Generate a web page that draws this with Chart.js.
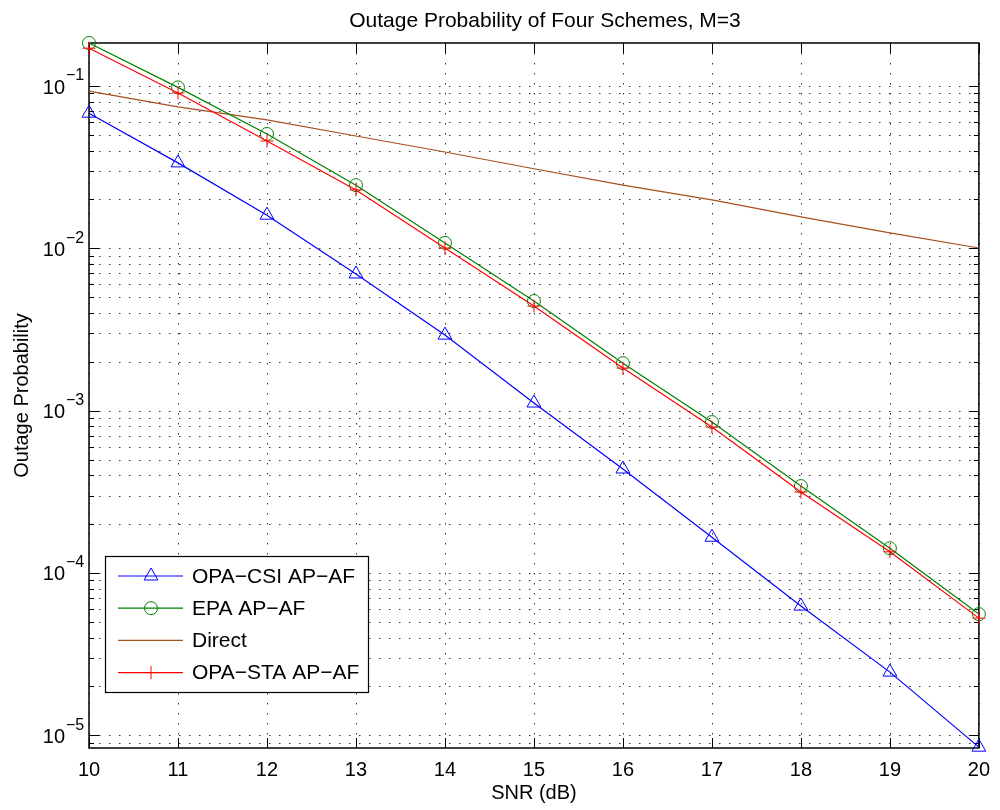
<!DOCTYPE html>
<html>
<head>
<meta charset="utf-8">
<title>Outage Probability of Four Schemes</title>
<script src="https://cdn.jsdelivr.net/npm/chart.js@4.4.0/dist/chart.umd.min.js"></script>
<style>
  html, body { margin: 0; padding: 0; background: #fff; }
  #wrap { width: 1000px; height: 810px; }
</style>
</head>
<body>
<div id="wrap"><canvas id="outageChart" width="1000" height="810"></canvas></div>
<script>
// Data
const snr = [10, 11, 12, 13, 14, 15, 16, 17, 18, 19, 20];
const opaCsi = [0.068, 0.0336, 0.0160, 0.00695, 0.00292, 0.001114, 4.37e-4, 1.66e-4, 6.25e-5, 2.45e-5, 8.45e-6];
const epa = [0.184, 0.098, 0.0506, 0.0245, 0.0108, 0.00473, 0.00196, 8.5e-4, 3.43e-4, 1.42e-4, 5.58e-5];
const direct = [0.093, 0.0743, 0.0618, 0.0492, 0.0392, 0.0309, 0.0245, 0.0199, 0.0156, 0.01245, 0.01004];
const opaSta = [0.171, 0.0905, 0.0458, 0.0229, 0.01005, 0.00441, 0.00183, 7.93e-4, 3.15e-4, 1.35e-4, 5.27e-5];

// Axis ticks
const xTicks = [10, 11, 12, 13, 14, 15, 16, 17, 18, 19, 20];
const yDecades = [1e-6, 1e-5, 1e-4, 1e-3, 1e-2, 1e-1];
const yLabelDecades = [1e-5, 1e-4, 1e-3, 1e-2, 1e-1];
const yLabelExponents = ['\u22125', '\u22124', '\u22123', '\u22122', '\u22121'];
const yMin = 8.35e-6;
const yMax = 0.184;

const fontFamily = '"Liberation Sans", Arial, Helvetica, sans-serif';

function toPoints(values) {
    return snr.map((x, i) => ({ x: x, y: values[i] }));
}

// every y tick (major + minor) inside the axis range
function yTickValues() {
    const out = [];
    yDecades.forEach(d => {
        for (let m = 1; m <= 9; m++) {
            const v = m * d;
            if (v >= yMin && v <= yMax) out.push({ value: v, major: m === 1 });
        }
    });
    return out;
}

function drawMarker(ctx, style, cx, cy, r) {
    ctx.beginPath();
    if (style === 'triangle') {
        ctx.moveTo(cx, cy - r);
        ctx.lineTo(cx + 0.866 * r, cy + 0.5 * r);
        ctx.lineTo(cx - 0.866 * r, cy + 0.5 * r);
        ctx.closePath();
    } else if (style === 'circle') {
        ctx.arc(cx, cy, r, 0, Math.PI * 2);
    } else if (style === 'cross') {
        ctx.moveTo(cx, cy - r); ctx.lineTo(cx, cy + r);
        ctx.moveTo(cx - r, cy); ctx.lineTo(cx + r, cy);
    }
    ctx.stroke();
}

// MATLAB style frame: dotted grid, inner ticks, box, title, y labels, legend
const matlabFrame = {
    id: 'matlabFrame',
    beforeDatasetsDraw(chart) {
        const { ctx, chartArea: a, scales: { x, y } } = chart;
        ctx.save();

        // dotted grid
        ctx.strokeStyle = '#333';
        ctx.lineWidth = 1;
        ctx.setLineDash([1.5, 8.5]);
        xTicks.forEach(v => {
            const px = Math.round(x.getPixelForValue(v)) + 0.5;
            ctx.beginPath(); ctx.moveTo(px, a.top); ctx.lineTo(px, a.bottom); ctx.stroke();
        });
        yTickValues().forEach(t => {
            const py = Math.round(y.getPixelForValue(t.value)) + 0.5;
            ctx.beginPath(); ctx.moveTo(a.left, py); ctx.lineTo(a.right, py); ctx.stroke();
        });

        // inner ticks
        ctx.setLineDash([]);
        ctx.strokeStyle = '#000';
        xTicks.forEach(v => {
            const px = Math.round(x.getPixelForValue(v)) + 0.5;
            ctx.beginPath();
            ctx.moveTo(px, a.bottom); ctx.lineTo(px, a.bottom - 10);
            ctx.moveTo(px, a.top); ctx.lineTo(px, a.top + 10);
            ctx.stroke();
        });
        yTickValues().forEach(t => {
            const py = Math.round(y.getPixelForValue(t.value)) + 0.5;
            const len = t.major ? 10 : 5;
            ctx.beginPath();
            ctx.moveTo(a.left, py); ctx.lineTo(a.left + len, py);
            ctx.moveTo(a.right, py); ctx.lineTo(a.right - len, py);
            ctx.stroke();
        });

        // box
        ctx.lineWidth = 1.5;
        ctx.strokeRect(a.left, a.top, a.right - a.left, a.bottom - a.top);
        ctx.restore();
    },
    afterDraw(chart) {
        const { ctx, chartArea: a, scales: { y } } = chart;
        ctx.save();
        ctx.fillStyle = '#000';

        // title
        ctx.font = '21px ' + fontFamily;
        ctx.textAlign = 'center';
        ctx.textBaseline = 'middle';
        ctx.fillText('Outage Probability of Four Schemes, M=3', 545, 21);

        // y tick labels 10^k
        yLabelDecades.forEach((d, i) => {
            const py = y.getPixelForValue(d);
            ctx.font = '20px ' + fontFamily;
            ctx.textAlign = 'right';
            ctx.fillText('10', a.left - 24, py + 2);
            ctx.font = '16px ' + fontFamily;
            ctx.textAlign = 'left';
            ctx.fillText(yLabelExponents[i], a.left - 23, py - 10);
        });

        // legend
        const box = { x: 105.5, y: 556.5, w: 263, h: 136 };
        ctx.fillStyle = '#fff';
        ctx.fillRect(box.x, box.y, box.w, box.h);
        ctx.strokeStyle = '#000';
        ctx.lineWidth = 1.2;
        ctx.strokeRect(box.x, box.y, box.w, box.h);
        ctx.font = '21px ' + fontFamily;
        ctx.textAlign = 'left';
        ctx.textBaseline = 'middle';
        chart.data.datasets.forEach((ds, i) => {
            const ry = 576 + i * 32.2;
            ctx.strokeStyle = ds.borderColor;
            ctx.lineWidth = 1.2;
            ctx.beginPath(); ctx.moveTo(118, ry); ctx.lineTo(183, ry); ctx.stroke();
            if (ds.pointRadius > 0) {
                ctx.lineWidth = 1;
                drawMarker(ctx, ds.pointStyle, 151, ry, ds.pointRadius);
            }
            ctx.fillStyle = '#000';
            ctx.fillText(ds.label, 192, ry + 1);
        });
        ctx.restore();
    }
};

function initChart() {
    const ctx = document.getElementById('outageChart').getContext('2d');
    return new Chart(ctx, {
        type: 'line',
        data: {
            datasets: [
                {
                    label: 'OPA\u2212CSI AP\u2212AF',
                    data: toPoints(opaCsi),
                    borderColor: '#0000ff',
                    pointStyle: 'triangle',
                    pointRadius: 8,
                    order: 1
                },
                {
                    label: 'EPA AP\u2212AF',
                    data: toPoints(epa),
                    borderColor: '#008000',
                    pointStyle: 'circle',
                    pointRadius: 6.5,
                    order: 3
                },
                {
                    label: 'Direct',
                    data: toPoints(direct),
                    borderColor: '#a84f1e',
                    pointStyle: 'circle',
                    pointRadius: 0,
                    order: 4
                },
                {
                    label: 'OPA\u2212STA AP\u2212AF',
                    data: toPoints(opaSta),
                    borderColor: '#ff0000',
                    pointStyle: 'cross',
                    pointRadius: 6.5,
                    order: 2
                }
            ].map(ds => Object.assign({
                borderWidth: 1.2,
                pointBorderColor: ds.borderColor,
                pointBackgroundColor: 'rgba(0,0,0,0)',
                pointBorderWidth: 1,
                pointHoverRadius: ds.pointRadius,
                tension: 0,
                fill: false,
                clip: false
            }, ds))
        },
        options: {
            responsive: false,
            animation: false,
            devicePixelRatio: 1,
            layout: { padding: { left: 0, right: 17, top: 43, bottom: 0 } },
            scales: {
                x: {
                    type: 'linear',
                    position: 'bottom',
                    min: 10,
                    max: 20,
                    afterBuildTicks: scale => { scale.ticks = xTicks.map(v => ({ value: v })); },
                    afterFit: scale => { scale.height = 62; },
                    grid: { display: false, drawTicks: false },
                    border: { display: false },
                    ticks: {
                        color: '#000',
                        font: { family: fontFamily, size: 20 },
                        padding: 10,
                        autoSkip: false,
                        maxRotation: 0
                    },
                    title: {
                        display: true,
                        text: 'SNR (dB)',
                        color: '#000',
                        font: { family: fontFamily, size: 20 },
                        padding: { top: 0, bottom: 5 }
                    }
                },
                y: {
                    type: 'logarithmic',
                    position: 'left',
                    min: yMin,
                    max: yMax,
                    afterFit: scale => { scale.width = 89; },
                    grid: { display: false, drawTicks: false },
                    border: { display: false },
                    ticks: { display: false },
                    title: {
                        display: true,
                        text: 'Outage Probability',
                        color: '#000',
                        font: { family: fontFamily, size: 20 },
                        padding: { top: 10, bottom: 0 }
                    }
                }
            },
            plugins: {
                legend: { display: false },
                tooltip: { enabled: false }
            }
        },
        plugins: [matlabFrame]
    });
}

document.addEventListener('DOMContentLoaded', () => {
    initChart();
});
</script>
</body>
</html>
